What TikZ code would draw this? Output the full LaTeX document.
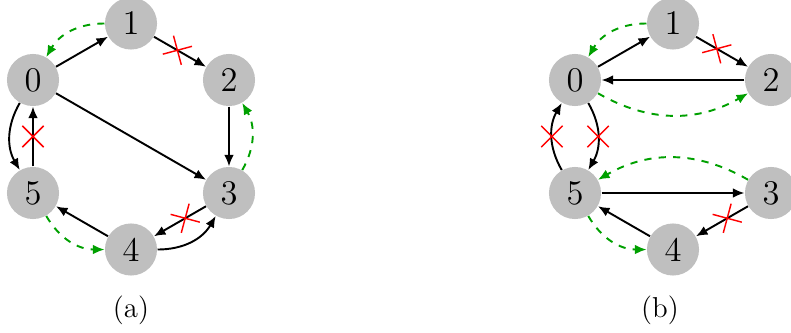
\documentclass[tikz,border=0pt]{standalone}
\usetikzlibrary{arrows.meta,shapes.misc}
\definecolor{dgreen}{RGB}{0,160,0}
\definecolor{ngray}{RGB}{191,191,191}
\begin{document}
\begin{tikzpicture}[x=0.4167pt,y=-0.4167pt,
  vert/.style={circle,fill=ngray,minimum size=21.7pt,inner sep=0pt,font=\Large},
  arr/.style={-{Latex[length=4.8pt,width=4pt]},line width=0.8pt},
  garr/.style={arr,dgreen,dashed},
  xmark/.style={draw=red,cross out,sloped,minimum size=8.3pt,inner sep=0pt,line width=0.6pt},
  captext/.style={font=\large}]
\useasboundingbox (0,0) rectangle (791,332);
\clip (0,0) rectangle (791,332);
% (a)
\node[vert] (a0) at (33,80) {0};
\node[vert] (a1) at (131,23.5) {1};
\node[vert] (a2) at (229,80) {2};
\node[vert] (a3) at (229,193) {3};
\node[vert] (a4) at (131,249.5) {4};
\node[vert] (a5) at (33,193) {5};
\draw[arr] (a0) -- (a1);
\draw[arr] (a1) -- node[xmark,pos=0.45]{} (a2);
\draw[arr] (a2) -- (a3);
\draw[arr] (a0) -- (a3);
\draw[arr] (a3) -- node[xmark,pos=0.4]{} (a4);
\draw[arr] (a4) to[bend right=30] (a3);
\draw[arr] (a4) -- (a5);
\draw[arr] (a5) -- node[xmark]{} (a0);
\draw[arr] (a0) to[bend right=30] (a5);
\draw[garr] (a1) to[bend right=30] (a0);
\draw[garr] (a3) to[bend right=30] (a2);
\draw[garr] (a5) to[bend right=30] (a4);
% (b)
\node[vert] (b0) at (575,80) {0};
\node[vert] (b1) at (673,23.5) {1};
\node[vert] (b2) at (771,80) {2};
\node[vert] (b3) at (771,193) {3};
\node[vert] (b4) at (673,249.5) {4};
\node[vert] (b5) at (575,193) {5};
\draw[arr] (b0) -- (b1);
\draw[arr] (b1) -- node[xmark,pos=0.4]{} (b2);
\draw[arr] (b2) -- (b0);
\draw[garr] (b1) to[bend right=30] (b0);
\draw[garr] (b0) to[bend right=30] (b2);
\draw[arr] (b0) to[bend left=30] node[xmark]{} (b5);
\draw[arr] (b5) to[bend left=30] node[xmark]{} (b0);
\draw[arr] (b5) -- (b3);
\draw[arr] (b3) -- node[xmark,pos=0.4]{} (b4);
\draw[arr] (b4) -- (b5);
\draw[garr] (b3) to[bend right=30] (b5);
\draw[garr] (b5) to[bend right=30] (b4);
% captions
\node[captext] (la) at (131,310) {(a)};
\node[captext] (lb) at (660,310) {(b)};
\end{tikzpicture}
\end{document}
